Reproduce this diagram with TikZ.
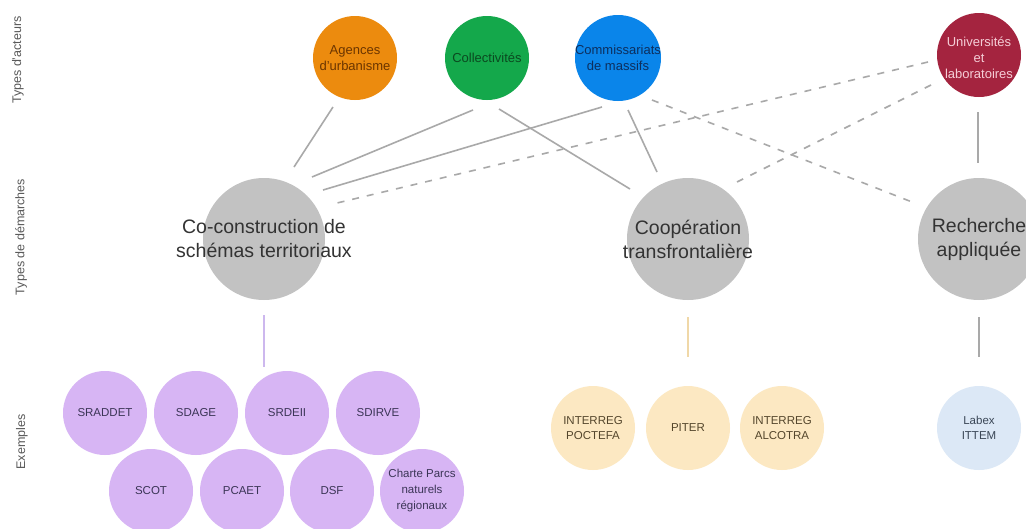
\documentclass[tikz,border=0pt]{standalone}
\usepackage{fontspec}
\setmainfont{Liberation Sans}
\usetikzlibrary{calc}
\definecolor{orangeA}{HTML}{EC8B0E}
\definecolor{orangeT}{HTML}{6B3500}
\definecolor{greenA}{HTML}{14A84B}
\definecolor{greenT}{HTML}{0B4A20}
\definecolor{blueA}{HTML}{0A85EA}
\definecolor{blueT}{HTML}{0D2F5E}
\definecolor{redA}{HTML}{A4243F}
\definecolor{redT}{HTML}{F5CDD6}
\definecolor{grayC}{HTML}{C2C2C2}
\definecolor{grayT}{HTML}{333333}
\definecolor{lav}{HTML}{D7B5F4}
\definecolor{lavT}{HTML}{3B3556}
\definecolor{lavL}{HTML}{CDB8EE}
\definecolor{yel}{HTML}{FCE8C2}
\definecolor{yelT}{HTML}{54462C}
\definecolor{yelL}{HTML}{F0D8A8}
\definecolor{pblue}{HTML}{DCE8F6}
\definecolor{pblueT}{HTML}{3A4656}
\definecolor{edgegray}{HTML}{A9A9A9}
\definecolor{labelT}{HTML}{595959}
\begin{document}
\begin{tikzpicture}[x=1pt,y=-1pt,
  disc/.style={circle, minimum size=84pt, inner sep=0pt, outer sep=0pt, draw=none},
  actortext/.style={font=\fontsize{13}{16}\selectfont, align=center},
  bigtext/.style={font=\fontsize{19.5}{24}\selectfont, align=center, text=grayT},
  demarche/.style={disc, minimum size=122pt, fill=grayC},
  exlav/.style={disc, fill=lav, text=lavT, font=\fontsize{11.5}{16}\selectfont, align=center},
  exyel/.style={disc, fill=yel, text=yelT, font=\fontsize{11.5}{15}\selectfont, align=center},
  exblue/.style={disc, fill=pblue, text=pblueT, font=\fontsize{11.5}{15}\selectfont, align=center},
  rowlabel/.style={rotate=90, font=\fontsize{12.5}{15}\selectfont, text=labelT},
  edge/.style={draw=edgegray, line width=1.6pt},
  dedge/.style={edge, dash pattern=on 7pt off 8pt},
]
\useasboundingbox (0,0) rectangle (1026,528);
\clip (0,0) rectangle (1026,528);
\fill[white] (0,0) rectangle (1026,528);

% row labels
\node[rowlabel] (lab1) at (18,60) {Types d'acteurs};
\node[rowlabel] (lab2) at (21,237) {Types de démarches};
\node[rowlabel] (lab3) at (22,442) {Exemples};

% actors
\node[disc, fill=orangeA, label={[actortext, text=orangeT]center:{Agences\\d'urbanisme}}] (ag) at (355,58) {};
\node[disc, fill=greenA, label={[actortext, text=greenT]center:{Collectivités}}] (co) at (487,58) {};
\node[disc, minimum size=86pt, fill=blueA, label={[actortext, text=blueT]center:{Commissariats\\de massifs}}] (cm) at (618,58) {};
\node[disc, fill=redA, label={[actortext, text=redT, yshift=-3pt]center:{Universités\\et\\laboratoires}}] (un) at (979,55) {};

% demarches
\node[demarche, label={[bigtext]center:{Co-construction de\\schémas territoriaux}}] (g1) at (264,239) {};
\node[demarche, label={[bigtext]center:{Coopération\\transfrontalière}}] (g2) at (688,239) {};
\node[demarche, label={[bigtext]center:{Recherche\\appliquée}}] (g3) at (979,239) {};

% connectors actors -> demarches
\draw[edge] ($(ag)+(-22,49)$) -- ($(g1)+(30,-72)$);
\draw[edge] ($(co)+(-14,52)$) -- ($(g1)+(48,-62)$);
\draw[edge] ($(co)+(12,51)$) -- ($(g2)+(-58,-50)$);
\draw[edge] ($(cm)+(-16,49)$) -- ($(g1)+(59,-49)$);
\draw[edge] ($(cm)+(10,52)$) -- ($(g2)+(-31,-67)$);
\draw[edge] ($(un)+(-1,57)$) -- ($(g3)+(-1,-76)$);
\draw[dedge] ($(un)+(-51,7)$) -- ($(g1)+(73,-36)$);
\draw[dedge] ($(un)+(-48,30)$) -- ($(g2)+(49,-57)$);
\draw[dedge] ($(cm)+(34,42)$) -- ($(g3)+(-67,-37)$);

% examples: schemas territoriaux
\node[exlav] (e1) at (105,413) {SRADDET};
\node[exlav] (e2) at (196,413) {SDAGE};
\node[exlav] (e3) at (287,413) {SRDEII};
\node[exlav] (e4) at (378,413) {SDIRVE};
\node[exlav] (e5) at (151,491) {SCOT};
\node[exlav] (e6) at (242,491) {PCAET};
\node[exlav] (e7) at (332,491) {DSF};
\node[exlav, label={[font=\fontsize{11.5}{16}\selectfont, text=lavT, align=center]center:{Charte Parcs\\naturels\\régionaux}}] (e8) at (422,491) {};
\coordinate (e1top) at (264,367);
\draw[draw=lavL, line width=1.6pt] ($(g1)+(0,76)$) -- (e1top);

% examples: cooperation
\node[exyel] (y1) at (593,428) {INTERREG\\POCTEFA};
\node[exyel] (y2) at (688,428) {PITER};
\node[exyel] (y3) at (782,428) {INTERREG\\ALCOTRA};
\draw[draw=yelL, line width=1.4pt, shorten <=17pt, shorten >=29pt] (g2) -- (y2);

% examples: recherche
\node[exblue] (b1) at (979,428) {Labex\\ITTEM};
\draw[edge, shorten <=17pt, shorten >=29pt] (g3) -- (b1);
\end{tikzpicture}
\end{document}
